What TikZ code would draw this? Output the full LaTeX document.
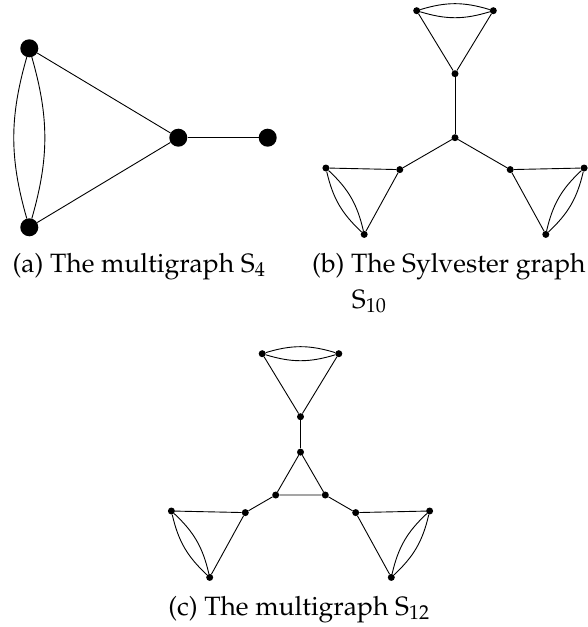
\documentclass[tikz,border=0pt]{standalone}
\usepackage[T1]{fontenc}
\usepackage{mathpazo}
\begin{document}
\begin{tikzpicture}[x=1pt,y=-1pt,
  big/.style={circle,fill=black,inner sep=0pt,minimum size=18pt},
  dot/.style={circle,fill=black,inner sep=0pt,minimum size=7pt},
  edge/.style={line width=0.9pt},
  captext/.style={inner sep=0pt,font=\fontsize{26.5}{32}\selectfont}]
\useasboundingbox (0,0) rectangle (588,627);
% (a)
\node[big] (a1) at (29.3,48.3) {};
\node[big] (a2) at (29.3,227.3) {};
\node[big] (a3) at (178.3,137.7) {};
\node[big] (a4) at (267.7,137.7) {};
\draw[edge] (a1) to[bend left=16] (a2);
\draw[edge] (a1) to[bend right=16] (a2);
\draw[edge] (a1) -- (a3);
\draw[edge] (a2) -- (a3);
\draw[edge] (a3) -- (a4);
\node[captext,anchor=base] (capa) at (139,272) {(a) The multigraph $\mathrm{S}_4$};
% (b)
\node[dot] (bc) at (455,137.7) {};
\node[dot] (bt) at (455,73.7) {};
\node[dot] (btl) at (416.7,10.7) {};
\node[dot] (btr) at (493.3,10.7) {};
\node[dot] (blr) at (399.8,169.6) {};
\node[dot] (blb) at (364.2,234.4) {};
\node[dot] (bll) at (325.9,168) {};
\node[dot] (brl) at (510.2,169.6) {};
\node[dot] (brb) at (545.8,234.4) {};
\node[dot] (brr) at (584.1,168) {};
\draw[edge] (bc) -- (bt);
\draw[edge] (bc) -- (blr);
\draw[edge] (bc) -- (brl);
\draw[edge] (bt) -- (btl);
\draw[edge] (bt) -- (btr);
\draw[edge] (btl) to[bend left=17] (btr);
\draw[edge] (btl) to[bend right=17] (btr);
\draw[edge] (blr) -- (bll);
\draw[edge] (blr) -- (blb);
\draw[edge] (bll) to[bend left=17] (blb);
\draw[edge] (bll) to[bend right=17] (blb);
\draw[edge] (brl) -- (brr);
\draw[edge] (brl) -- (brb);
\draw[edge] (brr) to[bend left=17] (brb);
\draw[edge] (brr) to[bend right=17] (brb);
\node[captext,anchor=base west] (capb) at (312,272) {(b) The Sylvester graph};
\node[captext,anchor=base west] (capb2) at (351.7,308) {$\mathrm{S}_{10}$};
% (c)
\node[dot] (cit) at (300.5,452.1) {};
\node[dot] (cil) at (275.7,495) {};
\node[dot] (cir) at (325.3,495) {};
\node[dot] (ct) at (300.5,416.7) {};
\node[dot] (ctl) at (262.2,353.7) {};
\node[dot] (ctr) at (338.8,353.7) {};
\node[dot] (clr) at (245.3,512.6) {};
\node[dot] (clb) at (209.7,577.4) {};
\node[dot] (cll) at (171.4,511) {};
\node[dot] (crl) at (355.7,512.6) {};
\node[dot] (crb) at (391.3,577.4) {};
\node[dot] (crr) at (429.6,511) {};
\draw[edge] (cit) -- (cil) -- (cir) -- (cit);
\draw[edge] (cit) -- (ct);
\draw[edge] (cil) -- (clr);
\draw[edge] (cir) -- (crl);
\draw[edge] (ct) -- (ctl);
\draw[edge] (ct) -- (ctr);
\draw[edge] (ctl) to[bend left=17] (ctr);
\draw[edge] (ctl) to[bend right=17] (ctr);
\draw[edge] (clr) -- (cll);
\draw[edge] (clr) -- (clb);
\draw[edge] (cll) to[bend left=17] (clb);
\draw[edge] (cll) to[bend right=17] (clb);
\draw[edge] (crl) -- (crr);
\draw[edge] (crl) -- (crb);
\draw[edge] (crr) to[bend left=17] (crb);
\draw[edge] (crr) to[bend right=17] (crb);
\node[captext,anchor=base] (capc) at (299,615) {(c) The multigraph $\mathrm{S}_{12}$};
\end{tikzpicture}
\end{document}
